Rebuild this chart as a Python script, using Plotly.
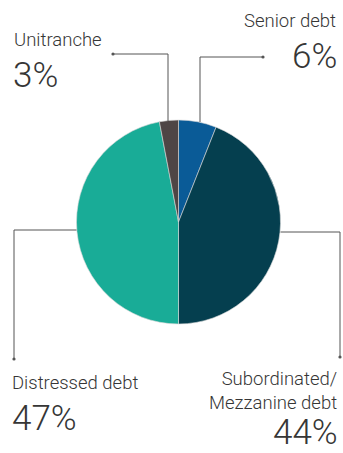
import plotly.graph_objects as go

W, H = 343, 453

categories = ["Senior debt", "Subordinated/<br>Mezzanine debt", "Distressed debt", "Unitranche"]
values = [6, 44, 47, 3]
colors = ["#0a5b97", "#053f4f", "#19ac97", "#4e4545"]

# pie geometry (pixels)
cx, cy, r = 178.5, 222, 102

def px(x):
    return x / W

def py(y):
    return 1 - y / H

fig = go.Figure(go.Pie(
    labels=categories,
    values=values,
    marker=dict(colors=colors, line=dict(color="#d8d8d8", width=0.6)),
    sort=False,
    direction="clockwise",
    rotation=0,
    textinfo="none",
    hoverinfo="label+percent",
    domain=dict(x=[px(cx - r), px(cx + r)], y=[py(cy + r), py(cy - r)]),
))

line_col = "#555555"
text_col = "#363636"
font_fam = "Roboto, Lato, sans-serif"

# leader lines: list of polylines in pixels
leaders = [
    [(200, 122), (200, 57), (263, 57)],      # Senior
    [(168, 121), (168, 54), (113, 54)],      # Unitranche
    [(cx - r, 230), (14, 230), (14, 359)],   # Distressed
    [(cx + r, 232), (340, 232), (340, 357)], # Subordinated
]
shapes = []
for pts in leaders:
    for (x0, y0), (x1, y1) in zip(pts[:-1], pts[1:]):
        shapes.append(dict(type="line", xref="paper", yref="paper",
                           x0=px(x0), y0=py(y0), x1=px(x1), y1=py(y1),
                           line=dict(color=line_col, width=1)))
    ex, ey = pts[-1]
    d = 1.6
    shapes.append(dict(type="circle", xref="paper", yref="paper",
                       x0=px(ex - d), x1=px(ex + d), y0=py(ey + d), y1=py(ey - d),
                       fillcolor=line_col, line=dict(width=0)))

labels_pos = [
    # text, x, y, anchor, size
    ("Senior debt", 338, 21, "right", 18.5),
    (f"{values[0]}%", 339, 57, "right", 35),
    ("Unitranche", 12, 40, "left", 18.5),
    (f"{values[3]}%", 11, 76, "left", 35),
    ("Distressed debt", 10, 383, "left", 18.5),
    (f"{values[2]}%", 10, 418, "left", 35),
    (categories[1], 339, 391, "right", 18.5),
    (f"{values[1]}%", 340, 432, "right", 35),
]
annotations = []
for t, x, y, a, s in labels_pos:
    annotations.append(dict(text=t, x=px(x), y=py(y), xref="paper", yref="paper",
                            xanchor=a, yanchor="middle", align=a, showarrow=False,
                            font=dict(size=s, color=text_col, family=font_fam, weight=300)))

fig.update_layout(
    width=W, height=H,
    margin=dict(l=0, r=0, t=0, b=0),
    paper_bgcolor="white", plot_bgcolor="white",
    showlegend=False,
    shapes=shapes,
    annotations=annotations,
)

fig.write_html("out.html",
               config={"displayModeBar": False},
               post_script="document.body.style.margin='0';document.body.style.overflow='hidden';")
